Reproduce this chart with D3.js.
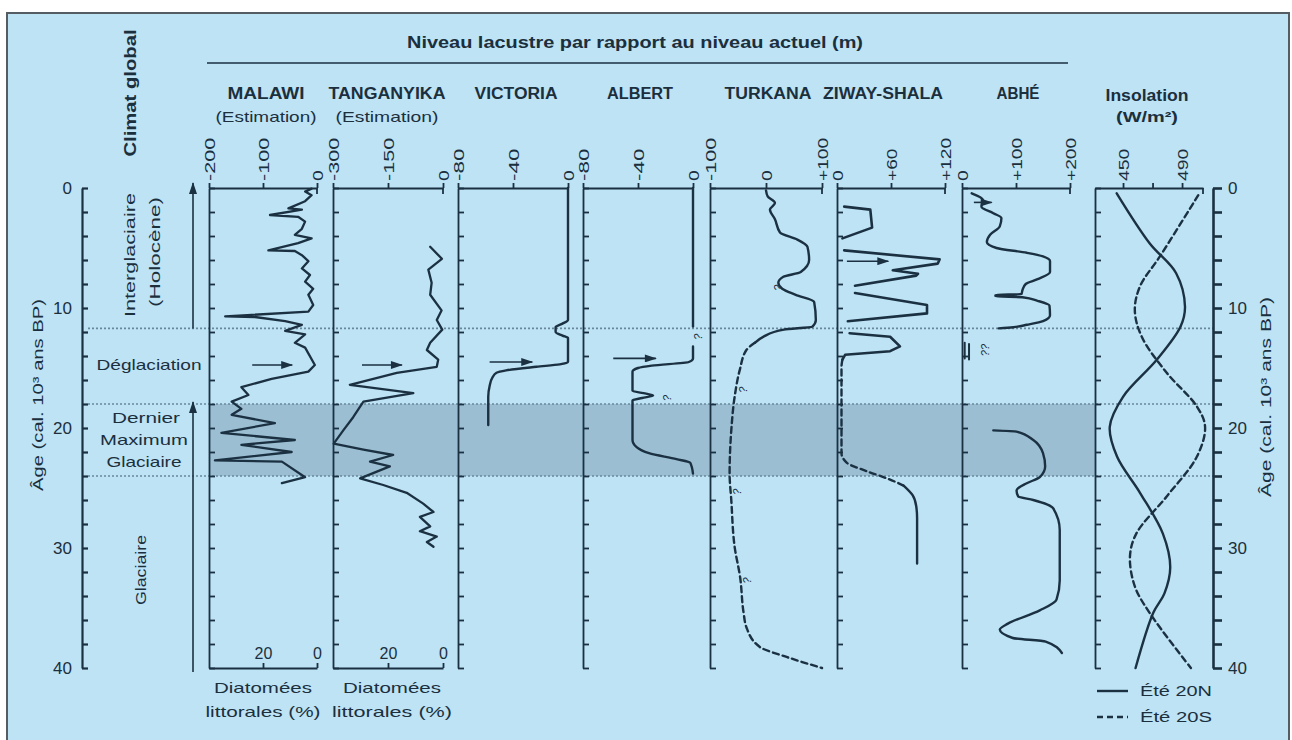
<!DOCTYPE html>
<html><head><meta charset="utf-8">
<script src="https://cdn.jsdelivr.net/npm/d3@7"></script>
<style>
html,body{margin:0;padding:0;background:#fff;}
svg text{font-family:"Liberation Sans","Arial",sans-serif;fill:#1b2f3d;}
</style></head><body>
<svg id="c" width="1292" height="740"></svg>
<script>
// ---------------- DATA ----------------
const lakeNames = ["MALAWI","TANGANYIKA","VICTORIA","ALBERT","TURKANA","ZIWAY-SHALA","ABHÉ","Insolation"];
const subTitles = ["(Estimation)","(Estimation)","","","","","","(W/m²)"];
const levelDomains = [[-200,0],[-300,0],[-80,0],[-80,0],[-100,100],[0,120],[0,200],[431,504.2]];
const topTickValues = [[-200,-100,0],[-300,-150,0],[-80,-40,0],[-80,-40,0],[-100,0,100],[0,60,120],[0,100,200],[450,470,490]];
const topTickLabels = [["-200","-100","0"],["-300","-150","0"],["-80","-40","0"],["-80","-40","0"],["-100","0","+100"],["0","+60","+120"],["0","+100","+200"],["450","","490"]];
const ageTicks = [0,2,4,6,8,10,12,14,16,18,20,22,24,26,28,30,32,34,36,38,40];
const ageLabels = [0,10,20,30,40];
const climateBoundaries = [11.7,18,24];
const lgmBand = [18,24];
const diatomDomain = [40,0];
const diatomTicks = [20,0];

// [age (ka), level]
const malawi = [[0.05,-10],[0.3,-22],[0.6,-10],[1.1,-22],[1.7,-53],[1.8,-28],[2.25,-87],[2.4,-35],[2.8,-22],[3.4,-28],[3.9,-41],[4.2,-10],[4.6,-35],[5.2,-90],[5.25,-41],[5.6,-28],[6.1,-16],[6.7,-28],[7.25,-13],[7.8,-22],[8.4,-7],[8.9,-16],[9.75,-7],[10.3,-16],[10.7,-170],[10.75,-115],[11.1,-59],[11.4,-28],[11.9,-59],[12.2,-22],[12.9,-41],[13.3,-22],[14.75,-4],[15.3,-16],[15.9,-84],[16.6,-140],[17.25,-127],[17.8,-158],[18.4,-140],[18.9,-158],[19.6,-78],[20.4,-177],[21.0,-41],[21.4,-140],[22.0,-47],[22.7,-189],[22.8,-65],[24.1,-22],[24.6,-65]];
const tanganyika = [[4.9,-35],[5.9,-3],[6.8,-40],[7.9,-31],[8.9,-35],[10.2,-4],[11.0,-17],[11.8,-2],[12.9,-35],[13.5,-44],[14.3,-13],[14.9,-17],[15.4,-126],[16.4,-254],[17.1,-81],[17.8,-217],[19.1,-245],[20.2,-272],[21.3,-298],[21.8,-217],[22.25,-136],[22.8,-199],[23.2,-145],[24.2,-226],[24.75,-163],[25.4,-99],[26.3,-54],[27.0,-26],[27.4,-63],[28.2,-35],[28.6,-63],[29.05,-17],[29.5,-44],[29.9,-26]];
const victoria = [[0,0],[11.0,0],[11.3,-4],[11.6,-9],[12.0,-9],[12.3,-4],[12.5,0],[14.5,0],[14.7,-6],[14.9,-23],[15.2,-45],[15.4,-52],[15.8,-55],[16.5,-57],[17.4,-58],[19.75,-58]];
const albertUpper = [[0,0],[11.55,0]];
const albertLower = [[13.2,0],[14.2,0],[14.5,-3],[14.8,-30],[15.0,-40],[15.3,-44],[16.9,-44],[17.1,-36],[17.3,-29],[17.5,-37],[17.7,-44],[21.0,-44],[21.6,-41],[22.1,-32],[22.6,-12],[22.9,-2],[23.8,0]];
const turkanaSolid = [[0.2,0],[0.7,3],[1.25,16],[1.8,7],[2.6,16],[3.7,25],[4.3,56],[4.9,74],[6.0,77],[7.0,62],[7.4,31],[7.9,22],[8.4,29],[8.9,53],[9.5,86],[11.0,89],[11.55,83],[11.8,32],[12.4,-5],[12.9,-20]];
const turkanaDashed = [[12.9,-20],[13.5,-35],[15.2,-47],[17.4,-56],[20.2,-62],[23.8,-65],[26.0,-62],[29.9,-56],[32.5,-46],[35.4,-40],[36.6,-35],[38.25,-11],[39.1,38],[40.0,100]];
const ziwaySeg1 = [[1.55,8],[1.8,37],[3.3,39],[4.2,6]];
const ziwaySeg2 = [[5.2,8],[5.95,114],[6.3,112],[6.85,62],[7.15,90],[7.3,88],[8.15,20]];
const ziwaySeg3 = [[8.75,20],[9.75,100],[10.45,100],[11.1,12]];
const ziwaySeg4 = [[12.1,14],[12.4,59],[13.2,70],[13.6,59],[13.9,9],[14.3,6]];
const ziwayDashed = [[14.3,6],[14.9,5],[22.1,5],[22.9,11],[23.6,33],[24.3,59],[24.8,74]];
const ziwayLower = [[24.8,74],[25.6,84],[26.5,88],[27.5,89],[31.3,89]];
const abheUpper = [[0.44,18],[1.0,39],[1.56,36],[2.1,58],[2.5,73],[3.2,70],[3.9,52],[4.5,46],[5.0,64],[5.4,120],[5.7,150],[6.1,163],[7.0,163],[7.6,140],[8.0,118],[8.5,112],[8.85,110],[8.9,62],[9.05,62],[9.1,112],[9.4,140],[9.8,162],[10.6,163],[11.1,150],[11.4,120],[11.6,95],[11.7,68]];
const abheLower = [[20.2,58],[20.3,101],[21.0,132],[22.1,150],[23.2,154],[24.1,144],[24.6,120],[25.2,101],[25.7,104],[26.0,132],[26.7,169],[28.5,181],[32.7,181],[34.3,175],[35.2,144],[36.3,85],[36.8,70],[37.5,94],[37.8,155],[38.75,185]];
const abheMarks = [[12.9,5,14.2],[13.0,13,14.3]]; // [ageStart, level, ageEnd]
const insolN = [[0.44,445.7],[4.6,468],[7.1,486],[9.9,492],[11.55,489],[14.3,473],[17.4,450],[19.9,441],[22.4,446],[25.4,461.5],[28.8,477],[31.6,482],[33.8,478],[35.4,470.5],[40,458.5]];
const insolS = [[0.6,501],[5.7,475],[8.2,461.5],[10.2,458],[12.4,462.7],[15.4,479.6],[18.2,500],[19.9,505.6],[22.4,500],[25.7,479.6],[28.8,459],[30.7,454.7],[33.2,458],[35.4,468],[40,496]];
const arrows = [{p:0,age:14.75,from:-120,to:-46},{p:1,age:14.75,from:-221,to:-112},{p:2,age:14.5,from:-57,to:-26},{p:3,age:14.2,from:-58,to:-27},{p:5,age:6.1,from:11,to:57},{p:6,age:1.2,from:22,to:55}];
const queries = [{p:3,age:12.4,v:4,s:"?"},{p:3,age:17.5,v:-19,s:"?"},{p:4,age:8.3,v:22,s:"?"},{p:4,age:16.8,v:-40,s:"?"},{p:4,age:25.3,v:-51,s:"?"},{p:4,age:32.7,v:-33,s:"?"},{p:6,age:13.5,v:42,s:"??"}];
const legendItems = ["Été 20N","Été 20S"];

// ---------------- LAYOUT ----------------
const ink = "#1b3142";
const bg = "#bde3f5";
const bandCol = "#9bbed2";
const panelLeft = [209,333,458,583,710,837,962,1095];
const panelWidth = [108,110,110,110,112,108,108,108];
const titleCx = [266,387,516,640,768,883,1018,1147];
const titleLen = [77,117,83,66,87,120,43,83];
const yTop = 188, yBot = 668;
const y = d3.scaleLinear().domain([0,40]).range([yTop,yBot]);
const xs = panelLeft.map((l,i)=>d3.scaleLinear().domain(levelDomains[i]).range([l,l+panelWidth[i]]));

const svg = d3.select("#c");
const defs = svg.append("defs");
defs.append("marker").attr("id","ah").attr("viewBox","0 0 12 8").attr("refX",11).attr("refY",4)
  .attr("markerWidth",13).attr("markerHeight",8).attr("markerUnits","userSpaceOnUse").attr("orient","auto")
  .append("path").attr("d","M0,0L12,4L0,8Z").attr("fill",ink);

// frame
svg.append("rect").attr("x",0).attr("y",0).attr("width",1292).attr("height",740).attr("fill","#fff");
svg.append("rect").attr("x",7).attr("y",13).attr("width",1282).attr("height",760)
  .attr("fill",bg).attr("stroke","#555d62").attr("stroke-width",2);

function txt(s,x,yy,o={}){
  const t = svg.append("text").attr("x",x).attr("y",yy).attr("dy","0.35em")
    .attr("text-anchor",o.anchor||"middle").style("font-size",(o.size||15)+"px")
    .style("font-weight",o.bold?"bold":"normal").text(s);
  if(o.len) t.attr("textLength",o.len).attr("lengthAdjust","spacingAndGlyphs");
  if(o.rot) t.attr("transform",`rotate(${o.rot},${x},${yy})`);
  return t;
}

// LGM band
svg.append("rect").attr("x",panelLeft[0]).attr("y",y(lgmBand[0]))
  .attr("width",panelLeft[7]-panelLeft[0]).attr("height",y(lgmBand[1])-y(lgmBand[0])).attr("fill",bandCol);
// dotted boundaries
climateBoundaries.forEach(a=>{
  svg.append("line").attr("x1",88).attr("x2",1213).attr("y1",y(a)).attr("y2",y(a))
    .attr("stroke","#6a889c").attr("stroke-width",1.6).attr("stroke-dasharray","2,2");
});

// Headers
txt("Niveau lacustre par rapport au niveau actuel (m)",635,42,{bold:true,size:17,len:456});
svg.append("line").attr("x1",207).attr("x2",1068).attr("y1",63).attr("y2",63).attr("stroke",ink).attr("stroke-width",1.6);
txt("Climat global",130,93,{bold:true,size:16,len:127,rot:-90});
lakeNames.forEach((n,i)=>{
  txt(n,titleCx[i],i===7?95:93,{bold:true,size:16,len:titleLen[i]});
  if(subTitles[i]) txt(subTitles[i],titleCx[i],117,{size:i===7?14:15,bold:i===7,len:i===7?62:(i===0?101:103)});
});

// Left climate labels
txt("Interglaciaire",130,255,{size:15,len:124,rot:-90});
txt("(Holocène)",155,252,{size:15,len:110,rot:-90});
txt("Déglaciation",149,365,{size:15,len:105});
txt("Dernier",146,418,{size:15,len:68});
txt("Maximum",144,440,{size:15,len:88});
txt("Glaciaire",144,462,{size:15,len:75});
txt("Glaciaire",141,570,{size:15,len:70,rot:-90});
txt("Âge (cal. 10³ ans BP)",38,395,{size:15,len:192,rot:-90});
txt("Âge (cal. 10³ ans BP)",1266,397,{size:15,len:200,rot:-90});

// climate arrows
svg.append("line").attr("x1",193).attr("x2",193).attr("y1",y(11.7)).attr("y2",y(0)-5)
  .attr("stroke",ink).attr("stroke-width",1.6).attr("marker-end","url(#ah)");
svg.append("line").attr("x1",193).attr("x2",193).attr("y1",y(40)+4).attr("y2",y(18)-2)
  .attr("stroke",ink).attr("stroke-width",1.6).attr("marker-end","url(#ah)");

function styleAxis(g,w){
  g.select(".domain").attr("stroke",ink).attr("stroke-width",w||2);
  g.selectAll(".tick line").attr("stroke",ink).attr("stroke-width",w||2);
}

// Main age axes
const lAx = svg.append("g").attr("transform","translate(82,0)")
  .call(d3.axisLeft(y).tickValues(ageTicks).tickSize(-6).tickSizeOuter(0).tickPadding(10)
    .tickFormat(d=>ageLabels.includes(d)?d:""));
styleAxis(lAx,2.2);
lAx.selectAll(".tick text").style("font-size","17px");
const rAx = svg.append("g").attr("transform","translate(1213,0)")
  .call(d3.axisRight(y).tickValues(ageTicks).tickSize(9).tickSizeOuter(0).tickPadding(6)
    .tickFormat(d=>ageLabels.includes(d)?d:""));
styleAxis(rAx,2.6);
rAx.selectAll(".tick text").style("font-size","17px");

// Panels
panelLeft.forEach((l,i)=>{
  const ga = svg.append("g").attr("transform",`translate(0,${yTop})`)
    .call(d3.axisTop(xs[i]).tickValues(topTickValues[i]).tickFormat((d,j)=>topTickLabels[i][j]).tickSize(5).tickSizeOuter(0));
  styleAxis(ga,1.8);
  ga.selectAll(".tick text").attr("transform","rotate(-90)").attr("x",7).attr("y",0).attr("dy","0.35em")
    .attr("text-anchor","start").style("font-size","15px")
    .each(function(){const s=d3.select(this).text(); if(s) d3.select(this).attr("textLength",10.8*s.length).attr("lengthAdjust","spacingAndGlyphs");});
  const r = l+panelWidth[i];
  svg.append("line").attr("x1",r).attr("x2",r).attr("y1",yTop).attr("y2",yTop+6).attr("stroke",ink).attr("stroke-width",1.8);
  const gl = svg.append("g").attr("transform",`translate(${l},0)`)
    .call(d3.axisRight(y).tickValues(ageTicks).tickSize(6).tickSizeOuter(0).tickFormat(""));
  styleAxis(gl,1.8);
});

// diatom axes (Malawi, Tanganyika)
[0,1].forEach(i=>{
  const sc = d3.scaleLinear().domain(diatomDomain).range(xs[i].range());
  const g = svg.append("g").attr("transform",`translate(0,${yBot})`)
    .call(d3.axisTop(sc).tickValues(diatomTicks).tickSize(5).tickSizeOuter(0).tickPadding(4));
  styleAxis(g,1.8);
  g.selectAll(".tick text").style("font-size","16px");
  const cx = (xs[i].range()[0]+xs[i].range()[1])/2 + (i?4:0);
  txt("Diatomées",cx,688,{size:15,len:98});
  txt("littorales (%)",cx,712,{size:15,len:i?120:115});
});

// Curves
function draw(data,i,opt={}){
  const line = d3.line().x(d=>xs[i](d[1])).y(d=>y(d[0])).curve(opt.curve||d3.curveLinear);
  svg.append("path").datum(data).attr("d",line).attr("fill","none").attr("stroke",ink)
    .attr("stroke-width",opt.w||2.4).attr("stroke-linejoin","round").attr("stroke-linecap","round")
    .attr("stroke-dasharray",opt.dash||null);
}
draw(malawi,0,{w:2.3});
draw(tanganyika,1,{w:2.3});
draw(victoria,2,{curve:d3.curveMonotoneY});
draw(albertUpper,3);
draw(albertLower,3,{curve:d3.curveMonotoneY});
draw(turkanaSolid,4,{curve:d3.curveMonotoneY});
draw(turkanaDashed,4,{curve:d3.curveMonotoneY,dash:"6,4"});
[ziwaySeg1,ziwaySeg2,ziwaySeg3,ziwaySeg4].forEach(s=>draw(s,5,{w:2.6}));
draw(ziwayDashed,5,{curve:d3.curveMonotoneY,dash:"6,4"});
draw(ziwayLower,5,{curve:d3.curveMonotoneY});
draw(abheUpper,6,{curve:d3.curveMonotoneY});
draw(abheLower,6,{curve:d3.curveMonotoneY});
abheMarks.forEach(m=>draw([[m[0],m[1]],[m[2],m[1]]],6,{w:2}));
draw(insolN,7,{curve:d3.curveCatmullRom});
draw(insolS,7,{curve:d3.curveCatmullRom,dash:"6,4"});

// arrows inside panels
arrows.forEach(a=>{
  svg.append("line").attr("x1",xs[a.p](a.from)).attr("x2",xs[a.p](a.to)).attr("y1",y(a.age)).attr("y2",y(a.age))
    .attr("stroke",ink).attr("stroke-width",1.6).attr("marker-end","url(#ah)");
});
// question marks
queries.forEach(q=>{
  txt(q.s,xs[q.p](q.v),y(q.age),{size:11,rot:-90}).style("font-style","italic");
});

// legend
legendItems.forEach((s,i)=>{
  const yy = 691+i*26;
  svg.append("line").attr("x1",1097).attr("x2",1128).attr("y1",yy).attr("y2",yy)
    .attr("stroke",ink).attr("stroke-width",2.4).attr("stroke-dasharray",i?"6,4":null);
  txt(s,1140,yy,{size:14,anchor:"start",len:72});
});
</script></body></html>
